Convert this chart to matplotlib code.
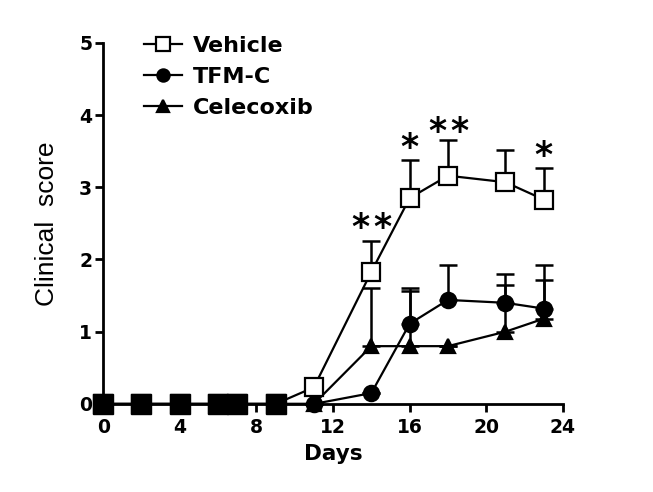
import numpy as np
import matplotlib
matplotlib.use("Agg")
import matplotlib.pyplot as plt

plt.rcParams['font.family'] = ['DejaVu Sans']

days = [0, 2, 4, 6, 7, 9, 11, 14, 16, 18, 21, 23]
vehicle = [0, 0, 0, 0, 0, 0, 0.23, 1.83, 2.85, 3.16, 3.07, 2.83]
vehicle_err = [0, 0, 0, 0, 0, 0, 0.13, 0.42, 0.53, 0.50, 0.45, 0.43]
tfmc = [0, 0, 0, 0, 0, 0, 0, 0.15, 1.11, 1.44, 1.40, 1.32]
tfmc_err = [0, 0, 0, 0, 0, 0, 0, 0, 0.49, 0.48, 0.40, 0.61]
celecoxib = [0, 0, 0, 0, 0, 0, 0, 0.80, 0.80, 0.80, 1.00, 1.18]
celecoxib_err = [0, 0, 0, 0, 0, 0, 0, 0.80, 0.76, 0, 0.64, 0.54]

star_days = [14, 16, 18, 23]
star_y = [2.56, 3.68, 3.90, 3.56]
star_count = [2, 1, 2, 1]

fig = plt.figure(figsize=(6.53, 4.92), dpi=100)
ax = fig.add_axes([0.158, 0.179, 0.704, 0.734])

def draw(y, err, marker, face, ms, label, z):
    y = np.array(y)
    err = np.array(err)
    ax.errorbar(days, y, yerr=[np.zeros_like(err), err], fmt='none',
                ecolor='black', elinewidth=1.8, capsize=6.5, capthick=1.8,
                zorder=z, clip_on=False)
    ax.plot(days, y, color='black', lw=1.6, marker=marker, ms=ms,
            mfc=face, mec='black', mew=1.6, label=label, zorder=z + 1,
            clip_on=False)

draw(celecoxib, celecoxib_err, '^', 'black', 10, 'Celecoxib', 2)
draw(tfmc, tfmc_err, 'o', 'black', 11, 'TFM-C', 4)
draw(vehicle, vehicle_err, 's', 'white', 13, 'Vehicle', 6)

# where all three groups sit at zero the overlapping symbols look like solid squares
all_zero = [d for d, a, b, c in zip(days, vehicle, tfmc, celecoxib) if a == b == c == 0]
ax.plot(all_zero, [0] * len(all_zero), ls='none', marker='s', ms=14,
        mfc='black', mec='black', zorder=8, clip_on=False)

for d, yy, n in zip(star_days, star_y, star_count):
    offs = [0] if n == 1 else [-11, 11]
    for o in offs:
        ax.annotate('*', (d, yy), xytext=(o * 0.72, -14), textcoords='offset points',
                    ha='center', va='baseline', fontsize=25, fontweight='bold')

ax.set_xlim(0, 24)
ax.set_ylim(0, 5)
ax.set_xticks([0, 4, 8, 12, 16, 20, 24])
ax.set_yticks([0, 1, 2, 3, 4, 5])
ax.spines['top'].set_visible(False)
ax.spines['right'].set_visible(False)
for s in ['left', 'bottom']:
    ax.spines[s].set_linewidth(2)
ax.tick_params(width=2, length=6, labelsize=13.5, pad=2)
ax.tick_params(axis='x', pad=4)
for lab in ax.get_xticklabels() + ax.get_yticklabels():
    lab.set_fontweight('bold')
ax.set_xlabel('Days', fontsize=15.5, fontweight='bold', labelpad=5)
ax.set_ylabel('Clinical  score', fontsize=19, labelpad=14,
              family=['Liberation Sans', 'DejaVu Sans'])

handles, labels = ax.get_legend_handles_labels()
order = [2, 1, 0]
leg = ax.legend([handles[i] for i in order], [labels[i] for i in order],
                loc='upper left', bbox_to_anchor=(0.065, 1.05), frameon=False,
                prop={'size': 16, 'weight': 'bold'}, handlelength=1.7,
                labelspacing=0.5, handletextpad=0.5, markerscale=0.8,
                borderpad=0)

fig.savefig('out.png', dpi=100)
